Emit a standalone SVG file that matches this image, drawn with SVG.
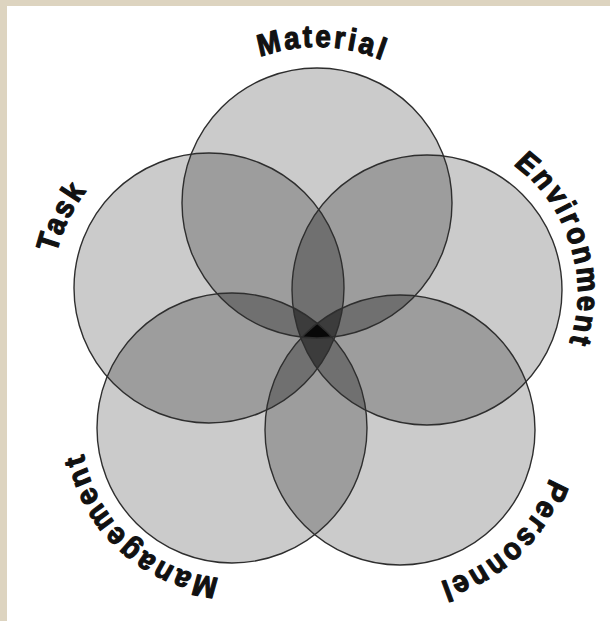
<svg xmlns="http://www.w3.org/2000/svg" xmlns:xlink="http://www.w3.org/1999/xlink" width="610" height="621" viewBox="0 0 610 621">
<style>
.outline{fill:none;stroke:#2e2e2e;stroke-width:1.4}
.l1{fill:#cbcbcb}
.l2{fill:#9d9d9d}
.l3{fill:#707070}
.l4{fill:#3c3c3c}
.l5{fill:#080808}
.lbl{font-family:"Liberation Sans",Arial,sans-serif;font-weight:bold;font-size:31px;letter-spacing:3px;fill:#111;stroke:#111;stroke-width:1.2;stroke-linejoin:round}
</style>
<defs>
<circle id="cM" cx="317" cy="203" r="135"/>
<circle id="cT" cx="209" cy="288" r="135"/>
<circle id="cE" cx="427" cy="290" r="135"/>
<circle id="cG" cx="232" cy="428" r="135"/>
<circle id="cP" cx="400" cy="430" r="135"/>
<clipPath id="kM"><use xlink:href="#cM"/></clipPath>
<clipPath id="kT"><use xlink:href="#cT"/></clipPath>
<clipPath id="kE"><use xlink:href="#cE"/></clipPath>
<clipPath id="kG"><use xlink:href="#cG"/></clipPath>
<clipPath id="kP"><use xlink:href="#cP"/></clipPath>
<path id="pM" d="M 311.6 358.9 A 173.33 156 2 1 1 322.4 47.1 A 173.33 156 2 1 1 311.6 358.9"/>
<path id="pT" d="M 349.2 356.4 A 173.33 156 -64 1 1 68.8 219.6 A 173.33 156 -64 1 1 349.2 356.4"/>
<path id="pE" d="M 283.6 333.9 A 166.67 150 73 1 1 570.4 246.1 A 166.67 150 73 1 1 283.6 333.9"/>
<path id="pG" d="M 334.3 318.3 A 166.67 150 43 1 1 129.7 537.7 A 166.67 150 43 1 1 334.3 318.3"/>
<path id="pP" d="M 292.9 315.2 A 174.44 157 137 1 1 507.1 544.8 A 174.44 157 137 1 1 292.9 315.2"/>
</defs>
<rect x="0" y="0" width="610" height="621" fill="#ddd4c0"/>
<rect x="7" y="6" width="603" height="615" fill="#ffffff"/>
<g id="shading">
<g class="l1">
<use xlink:href="#cM"/><use xlink:href="#cT"/><use xlink:href="#cE"/><use xlink:href="#cG"/><use xlink:href="#cP"/>
</g>
<g class="l2">
<use xlink:href="#cM" clip-path="url(#kT)"/>
<use xlink:href="#cM" clip-path="url(#kE)"/>
<use xlink:href="#cM" clip-path="url(#kG)"/>
<use xlink:href="#cM" clip-path="url(#kP)"/>
<use xlink:href="#cT" clip-path="url(#kE)"/>
<use xlink:href="#cT" clip-path="url(#kG)"/>
<use xlink:href="#cT" clip-path="url(#kP)"/>
<use xlink:href="#cE" clip-path="url(#kG)"/>
<use xlink:href="#cE" clip-path="url(#kP)"/>
<use xlink:href="#cG" clip-path="url(#kP)"/>
</g>
<g class="l3">
<g clip-path="url(#kE)"><use xlink:href="#cM" clip-path="url(#kT)"/></g>
<g clip-path="url(#kG)"><use xlink:href="#cM" clip-path="url(#kT)"/></g>
<g clip-path="url(#kP)"><use xlink:href="#cM" clip-path="url(#kT)"/></g>
<g clip-path="url(#kG)"><use xlink:href="#cM" clip-path="url(#kE)"/></g>
<g clip-path="url(#kP)"><use xlink:href="#cM" clip-path="url(#kE)"/></g>
<g clip-path="url(#kP)"><use xlink:href="#cM" clip-path="url(#kG)"/></g>
<g clip-path="url(#kG)"><use xlink:href="#cT" clip-path="url(#kE)"/></g>
<g clip-path="url(#kP)"><use xlink:href="#cT" clip-path="url(#kE)"/></g>
<g clip-path="url(#kP)"><use xlink:href="#cT" clip-path="url(#kG)"/></g>
<g clip-path="url(#kP)"><use xlink:href="#cE" clip-path="url(#kG)"/></g>
</g>
<g class="l4">
<g clip-path="url(#kG)"><g clip-path="url(#kE)"><use xlink:href="#cM" clip-path="url(#kT)"/></g></g>
<g clip-path="url(#kP)"><g clip-path="url(#kE)"><use xlink:href="#cM" clip-path="url(#kT)"/></g></g>
<g clip-path="url(#kP)"><g clip-path="url(#kG)"><use xlink:href="#cM" clip-path="url(#kT)"/></g></g>
<g clip-path="url(#kP)"><g clip-path="url(#kG)"><use xlink:href="#cM" clip-path="url(#kE)"/></g></g>
<g clip-path="url(#kP)"><g clip-path="url(#kG)"><use xlink:href="#cT" clip-path="url(#kE)"/></g></g>
</g>
<g class="l5">
<g clip-path="url(#kP)"><g clip-path="url(#kG)"><g clip-path="url(#kE)"><use xlink:href="#cM" clip-path="url(#kT)"/></g></g></g>
</g>
</g>
<g id="material">
<use xlink:href="#cM" class="outline"/>
<text class="lbl" transform="translate(317 203) rotate(2) scale(0.9 1) rotate(-2) translate(-317 -203)"><textPath xlink:href="#pM" startOffset="50%" text-anchor="middle">Material</textPath></text>
</g>
<g id="task">
<use xlink:href="#cT" class="outline"/>
<text class="lbl" transform="translate(209 288) rotate(-64) scale(0.9 1) rotate(64) translate(-209 -288)"><textPath xlink:href="#pT" startOffset="50%" text-anchor="middle">Task</textPath></text>
</g>
<g id="environment">
<use xlink:href="#cE" class="outline"/>
<text class="lbl" transform="translate(427 290) rotate(73) scale(0.9 1) rotate(-73) translate(-427 -290)"><textPath xlink:href="#pE" startOffset="50%" text-anchor="middle">Environment</textPath></text>
</g>
<g id="management">
<use xlink:href="#cG" class="outline"/>
<text class="lbl" transform="translate(232 428) rotate(43) scale(0.9 1) rotate(-43) translate(-232 -428)"><textPath xlink:href="#pG" startOffset="50%" text-anchor="middle">Management</textPath></text>
</g>
<g id="personnel">
<use xlink:href="#cP" class="outline"/>
<text class="lbl" transform="translate(400 430) rotate(137) scale(0.9 1) rotate(-137) translate(-400 -430)"><textPath xlink:href="#pP" startOffset="50%" text-anchor="middle">Personnel</textPath></text>
</g>
<g id="connectors"/>
</svg>
